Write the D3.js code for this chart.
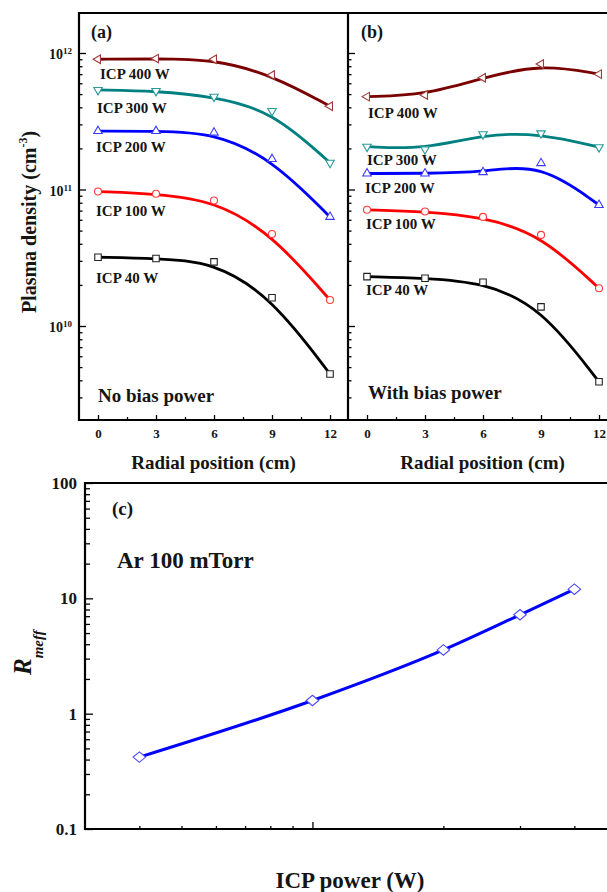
<!DOCTYPE html>
<html>
<head>
<meta charset="utf-8">
<script src="https://cdn.jsdelivr.net/npm/d3@7"></script>
<style>
  body { margin: 0; background: #fff; }
  svg { display: block; }
  text { font-family: "Liberation Serif", "Times New Roman", serif; font-weight: bold; fill: #151515; }
</style>
</head>
<body>
<svg id="fig" width="607" height="892"></svg>
<script>
// ---- data ----
const radial = [0, 3, 6, 9, 12];                 // radial position (cm)
const radialTicks = [0, 3, 6, 9, 12];
const radialMinor = [1.5, 4.5, 7.5, 10.5, 13.5];
const densityTicks = [1e10, 1e11, 1e12];
const icpLabels = ["ICP 400 W", "ICP 300 W", "ICP 200 W", "ICP 100 W", "ICP 40 W"];

// plasma density (cm^-3), no bias power
const noBias400 = [9.0e11, 9.1e11, 9.0e11, 6.9e11, 4.07e11];
const noBias300 = [5.36e11, 5.27e11, 4.79e11, 3.76e11, 1.57e11];
const noBias200 = [2.68e11, 2.68e11, 2.61e11, 1.67e11, 6.3e10];
const noBias100 = [9.66e10, 9.3e10, 8.3e10, 4.72e10, 1.55e10];
const noBias40  = [3.19e10, 3.12e10, 2.95e10, 1.61e10, 4.45e9];

// plasma density (cm^-3), with bias power
const bias400 = [4.79e11, 4.92e11, 6.59e11, 8.3e11, 7.0e11];
const bias300 = [2.06e11, 1.97e11, 2.54e11, 2.58e11, 2.04e11];
const bias200 = [1.31e11, 1.31e11, 1.34e11, 1.56e11, 7.7e10];
const bias100 = [7.1e10, 6.9e10, 6.3e10, 4.65e10, 1.89e10];
const bias40  = [2.3e10, 2.24e10, 2.09e10, 1.38e10, 3.9e9];

// R_meff versus ICP power
const icpPower = [40, 100, 200, 300, 400];
const rMeff = [0.42, 1.3, 3.57, 7.2, 12.0];
const rTicks = [0.1, 1, 10, 100];
const rTickLabels = ["0.1", "1", "10", "100"];
const powerMinor = [40, 50, 60, 70, 80, 90, 200, 300, 400, 500];
const powerMajor = [100];

// ---- marker shapes ----
function triangle(angleDeg) {
  return {
    draw(ctx, s) {
      const h = s * Math.sqrt(3) / 2;
      const pts = [[0, -2 * h / 3], [s / 2, h / 3], [-s / 2, h / 3]];
      const a = angleDeg * Math.PI / 180;
      pts.forEach(([px, py], i) => {
        const rx = px * Math.cos(a) - py * Math.sin(a);
        const ry = px * Math.sin(a) + py * Math.cos(a);
        if (i === 0) ctx.moveTo(rx, ry); else ctx.lineTo(rx, ry);
      });
      ctx.closePath();
    }
  };
}
const circleShape = { draw(ctx, s) { ctx.moveTo(s / 2, 0); ctx.arc(0, 0, s / 2, 0, 2 * Math.PI); } };
const squareShape = { draw(ctx, s) { ctx.rect(-s / 2, -s / 2, s, s); } };
const diamondShape = { draw(ctx, s) { const w = s / 2, h = s * 0.42; ctx.moveTo(0, -h); ctx.lineTo(w, 0); ctx.lineTo(0, h); ctx.lineTo(-w, 0); ctx.closePath(); } };

const seriesStyle = [
  { color: "#7a0000", mark: "#a03a3a", shape: triangle(-90), size: 8.5 },
  { color: "#008080", mark: "#2a9a9a", shape: triangle(180), size: 8.5 },
  { color: "#0000ff", mark: "#3b3bff", shape: triangle(0), size: 8.5 },
  { color: "#ff0000", mark: "#ff3a3a", shape: circleShape, size: 7 },
  { color: "#000000", mark: "#222222", shape: squareShape, size: 6.5 }
];

const svg = d3.select("#fig");
svg.append("rect").attr("width", 607).attr("height", 892).attr("fill", "#fff");

// ---- top panels: plasma density vs radial position ----
const topY0 = 13, topY1 = 420, panelW = 269;
const yDen = d3.scaleLog()
  .domain([Math.pow(10, 9.3114), Math.pow(10, 12.293)])
  .range([topY1, topY0]);
const yMinor = yDen.ticks().filter(v => !densityTicks.some(t => Math.abs(v / t - 1) < 1e-6));
const expOf = v => Math.round(Math.log10(v));

function drawPanel(x0, series, labelPos, tag, tagPos, note, notePos, withYLabels) {
  const x = d3.scaleLinear().domain([-0.983, 12.93]).range([x0, x0 + panelW]);
  const g = svg.append("g");

  // x axis ticks (inward)
  const gx = g.append("g").attr("transform", `translate(0,${topY1})`);
  gx.call(d3.axisBottom(x).tickValues(radialTicks).tickSizeInner(-5).tickSizeOuter(0)
      .tickPadding(9).tickFormat(d3.format("d")));
  gx.append("g").call(d3.axisBottom(x).tickValues(radialMinor.filter(v => x(v) < x0 + panelW))
      .tickSizeInner(-3).tickSizeOuter(0).tickFormat(""));
  gx.selectAll(".domain").remove();
  gx.selectAll("line").attr("stroke", "#000").attr("stroke-width", 1.3);
  gx.selectAll("text").attr("font-size", 13).attr("fill", "#151515");

  // y axis ticks (inward)
  const gy = g.append("g").attr("transform", `translate(${x0},0)`);
  gy.call(d3.axisLeft(yDen).tickValues(densityTicks).tickSizeInner(-7).tickSizeOuter(0)
      .tickPadding(7).tickFormat(""));
  gy.append("g").call(d3.axisLeft(yDen).tickValues(yMinor).tickSizeInner(-3.5).tickSizeOuter(0).tickFormat(""));
  gy.selectAll(".domain").remove();
  gy.selectAll("line").attr("stroke", "#000").attr("stroke-width", 1.3);
  if (withYLabels) {
    gy.selectAll(".tick text").filter(d => densityTicks.includes(d)).each(function (d) {
      const t = d3.select(this).text("").attr("font-size", 14).attr("dy", "0.42em").attr("x", -7);
      t.append("tspan").text("10");
      t.append("tspan").attr("font-size", 9).attr("dy", "-0.55em").text(expOf(d));
    });
  } else {
    gy.selectAll(".tick text").remove();
  }

  // curves and markers
  const line = d3.line().x((d, i) => x(radial[i])).y(d => yDen(d)).curve(d3.curveBasis);
  series.forEach((vals, k) => {
    const st = seriesStyle[k];
    g.append("path").attr("d", line(vals)).attr("fill", "none")
      .attr("stroke", st.color).attr("stroke-width", 2.8).attr("stroke-linejoin", "round");
    g.selectAll(null).data(vals).enter().append("path")
      .attr("transform", (d, i) => `translate(${x(radial[i])},${yDen(d)})`)
      .attr("d", d3.symbol().type(st.shape).size(st.size))
      .attr("fill", "#fff").attr("stroke", st.mark).attr("stroke-width", 1.1);
    g.append("text").attr("x", labelPos[k][0]).attr("y", labelPos[k][1])
      .attr("font-size", 15).text(icpLabels[k]);
  });

  g.append("text").attr("x", tagPos[0]).attr("y", tagPos[1]).attr("font-size", 18).text(tag);
  g.append("text").attr("x", notePos[0]).attr("y", notePos[1]).attr("font-size", 19).text(note);

  g.append("text").attr("x", x0 + panelW / 2).attr("y", 469).attr("text-anchor", "middle")
    .attr("font-size", 19).text("Radial position (cm)");
}

drawPanel(79, [noBias400, noBias300, noBias200, noBias100, noBias40],
  [[100, 79], [97, 113], [96, 152], [96, 216], [96, 283]],
  "(a)", [91, 38], "No bias power", [98, 402], true);
drawPanel(348, [bias400, bias300, bias200, bias100, bias40],
  [[368, 118], [367, 165], [365, 193], [366, 229], [366, 295]],
  "(b)", [361, 38], "With bias power", [368, 399], false);

// frame of the top panels
const frame = svg.append("g").attr("stroke", "#000").attr("stroke-width", 2.2).attr("fill", "none");
frame.append("path").attr("d", `M607,${topY0}H79V${topY1}H607`);
frame.append("path").attr("d", `M348,${topY0}V${topY1}`);

// y axis title
const yt = svg.append("text").attr("transform", "translate(36,222) rotate(-90)")
  .attr("text-anchor", "middle").attr("font-size", 20);
yt.append("tspan").text("Plasma density (cm");
yt.append("tspan").attr("font-size", 12).attr("dy", "-0.75em").text("-3");
yt.append("tspan").attr("dy", "0.45em").text(")");

// ---- bottom panel: R_meff vs ICP power ----
const cX0 = 85, cY0 = 483, cY1 = 829;
const xP = d3.scaleLog().domain([30, 500]).range([cX0, cX0 + 435 * Math.log10(500 / 30)]);
const yR = d3.scaleLog().domain([0.1, 100]).range([cY1, cY0]);
const gc = svg.append("g");

const gcx = gc.append("g").attr("transform", `translate(0,${cY1})`);
gcx.call(d3.axisBottom(xP).tickValues(powerMajor).tickSizeInner(-7).tickSizeOuter(0).tickFormat(""));
gcx.append("g").call(d3.axisBottom(xP).tickValues(powerMinor).tickSizeInner(-3).tickSizeOuter(0).tickFormat(""));
gcx.selectAll(".domain").remove();
gcx.selectAll("line").attr("stroke", "#000").attr("stroke-width", 1.3);

const rMinor = yR.ticks().filter(v => !rTicks.some(t => Math.abs(v / t - 1) < 1e-6));
const gcy = gc.append("g").attr("transform", `translate(${cX0},0)`);
gcy.call(d3.axisLeft(yR).tickValues(rTicks).tickSizeInner(-8).tickSizeOuter(0).tickPadding(8)
  .tickFormat((d, i) => rTickLabels[i]));
gcy.append("g").call(d3.axisLeft(yR).tickValues(rMinor).tickSizeInner(-5).tickSizeOuter(0).tickFormat(""));
gcy.selectAll(".domain").remove();
gcy.selectAll("line").attr("stroke", "#000").attr("stroke-width", 1.3);
gcy.selectAll(".tick text").attr("font-size", 17).attr("fill", "#151515");

gc.append("path")
  .attr("d", d3.line().x((d, i) => xP(icpPower[i])).y(d => yR(d)).curve(d3.curveMonotoneX)(rMeff))
  .attr("fill", "none").attr("stroke", "#0000ff").attr("stroke-width", 3);
gc.selectAll(null).data(rMeff).enter().append("path")
  .attr("transform", (d, i) => `translate(${xP(icpPower[i])},${yR(d)})`)
  .attr("d", d3.symbol().type(diamondShape).size(12.5))
  .attr("fill", "#fff").attr("stroke", "#4a4aff").attr("stroke-width", 1.1);

gc.append("path").attr("d", `M607,${cY0}H${cX0}V${cY1}H607`)
  .attr("fill", "none").attr("stroke", "#000").attr("stroke-width", 2.2);

gc.append("text").attr("x", 112).attr("y", 515).attr("font-size", 19).text("(c)");
gc.append("text").attr("x", 117).attr("y", 568).attr("font-size", 23).text("Ar 100 mTorr");

gc.append("text").attr("x", 350).attr("y", 888).attr("text-anchor", "middle")
  .attr("font-size", 23).text("ICP power (W)");

const rt = svg.append("text").attr("transform", "translate(31,675) rotate(-90)")
  .attr("font-size", 25).attr("font-style", "italic");
rt.append("tspan").text("R");
rt.append("tspan").attr("font-size", 15).attr("dy", 12).text("meff");
</script>
</body>
</html>
